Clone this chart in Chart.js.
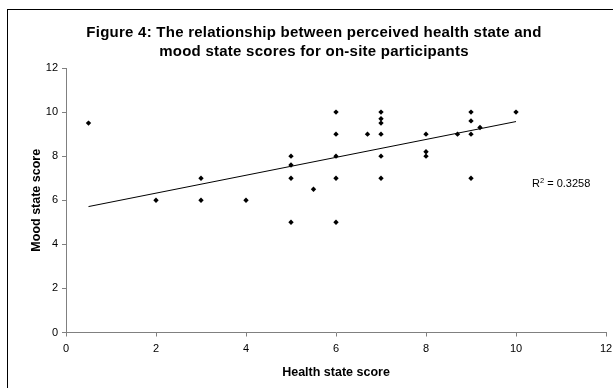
<!DOCTYPE html>
<html>
<head>
<meta charset="utf-8">
<script src="https://cdn.jsdelivr.net/npm/chart.js@4"></script>
<style>
  html, body { margin: 0; padding: 0; background: #fff; }
  #wrap { width: 613px; height: 388px; }
</style>
</head>
<body>
<div id="wrap"><canvas id="c" width="613" height="388"></canvas></div>
<script>
// Health state score (x) and mood state score (y) for each on-site participant
const healthScores = [0.5, 2, 3, 3, 4, 5, 5, 5, 5, 5.5, 6, 6, 6, 6, 6, 6.7, 7, 7, 7, 7, 7, 7, 8, 8, 8, 8.7, 9, 9, 9, 9, 9.2, 10];
const moodScores   = [9.5, 6, 6, 7, 6, 8, 7.6, 7, 5, 6.5, 10, 9, 8, 7, 5, 9, 10, 9.7, 9.5, 9, 8, 7, 9, 8.2, 8, 9, 10, 9.6, 9, 7, 9.3, 10];

// Linear trend line coefficients and its fit statistic
const trendSlope = 0.406;
const trendIntercept = 5.51;
const rSquaredText = '0.3258';

// Axis ticks
const xTicks = [0, 2, 4, 6, 8, 10, 12];
const yTicks = [0, 2, 4, 6, 8, 10, 12];

const titleLines = [
  'Figure 4: The relationship between perceived health state and',
  'mood state scores for on-site participants'
];
const xTitle = 'Health state score';
const yTitle = 'Mood state score';

const points = healthScores.map((h, i) => ({ x: h, y: moodScores[i] }));
const xMin = Math.min(...healthScores);
const xMax = Math.max(...healthScores);
const trendPoints = [xMin, xMax].map(x => ({ x: x, y: trendIntercept + trendSlope * x }));

const FONT = '"Liberation Sans", Arial, sans-serif';
const AXIS_GREY = '#808080';

// Outer frame, two-line heading and the R² note
const decorations = {
  id: 'decorations',
  beforeDraw(chart) {
    const ctx = chart.ctx;
    ctx.save();
    ctx.fillStyle = '#fff';
    ctx.fillRect(0, 0, chart.width, chart.height);
    ctx.strokeStyle = '#000';
    ctx.lineWidth = 1;
    ctx.strokeRect(7.5, 9.5, 700, 500);
    ctx.restore();
  },
  afterDraw(chart) {
    const ctx = chart.ctx;
    const area = chart.chartArea;
    ctx.save();
    ctx.fillStyle = '#000';
    ctx.textAlign = 'center';
    ctx.textBaseline = 'middle';
    ctx.font = 'bold 15px ' + FONT;
    if ('letterSpacing' in ctx) ctx.letterSpacing = '0.25px';
    titleLines.forEach((line, i) => ctx.fillText(line, 314, 33 + i * 19));
    if ('letterSpacing' in ctx) ctx.letterSpacing = '0px';

    // R² = value, with a raised 2
    const yScale = chart.scales.y;
    const baseY = yScale.getPixelForValue(6.6);
    let x = area.right - 74;
    ctx.textAlign = 'left';
    ctx.textBaseline = 'alphabetic';
    ctx.font = '11px ' + FONT;
    ctx.fillText('R', x, baseY);
    x += ctx.measureText('R').width;
    ctx.font = '7.5px ' + FONT;
    ctx.fillText('2', x, baseY - 4.5);
    x += ctx.measureText('2').width;
    ctx.font = '11px ' + FONT;
    ctx.fillText(' = ' + rSquaredText, x, baseY);
    ctx.restore();
  }
};

new Chart(document.getElementById('c'), {
  type: 'scatter',
  data: {
    datasets: [
      {
        label: 'Participants',
        data: points,
        pointStyle: 'rectRot',
        pointRadius: 2.7,
        pointHoverRadius: 2.7,
        backgroundColor: '#000',
        borderColor: '#000',
        borderWidth: 0
      },
      {
        label: 'Linear trend',
        type: 'line',
        data: trendPoints,
        borderColor: '#000',
        borderWidth: 1,
        pointRadius: 0,
        fill: false,
        tension: 0
      }
    ]
  },
  plugins: [decorations],
  options: {
    responsive: false,
    animation: false,
    devicePixelRatio: 1,
    layout: { padding: { left: 0, right: 7, top: 68, bottom: 0 } },
    plugins: {
      legend: { display: false },
      title: { display: false },
      tooltip: { enabled: false }
    },
    scales: {
      x: {
        type: 'linear',
        min: xTicks[0],
        max: xTicks[xTicks.length - 1],
        afterBuildTicks(scale) { scale.ticks = xTicks.map(v => ({ value: v })); },
        afterFit(scale) {
          scale.height = 55.5;
          scale.paddingLeft = 0;
          scale.paddingRight = 0;
        },
        grid: { drawOnChartArea: false, drawTicks: true, tickLength: 4, color: AXIS_GREY },
        border: { display: true, color: AXIS_GREY, width: 1 },
        ticks: { color: '#000', font: { family: FONT, size: 11 }, padding: 6, maxRotation: 0 },
        title: {
          display: true,
          text: xTitle,
          color: '#000',
          font: { family: FONT, size: 12.5, weight: 'bold' },
          padding: { top: 0, bottom: 7.8 }
        }
      },
      y: {
        type: 'linear',
        min: yTicks[0],
        max: yTicks[yTicks.length - 1],
        afterBuildTicks(scale) { scale.ticks = yTicks.map(v => ({ value: v })); },
        afterFit(scale) { scale.width = 66; },
        grid: { drawOnChartArea: false, drawTicks: true, tickLength: 4, color: AXIS_GREY },
        border: { display: true, color: AXIS_GREY, width: 1 },
        ticks: { color: '#000', font: { family: FONT, size: 11 }, padding: 4 },
        title: {
          display: true,
          text: yTitle,
          color: '#000',
          font: { family: FONT, size: 12.5, weight: 'bold' },
          padding: { top: 29.5, bottom: 0 }
        }
      }
    }
  }
});
</script>
</body>
</html>
